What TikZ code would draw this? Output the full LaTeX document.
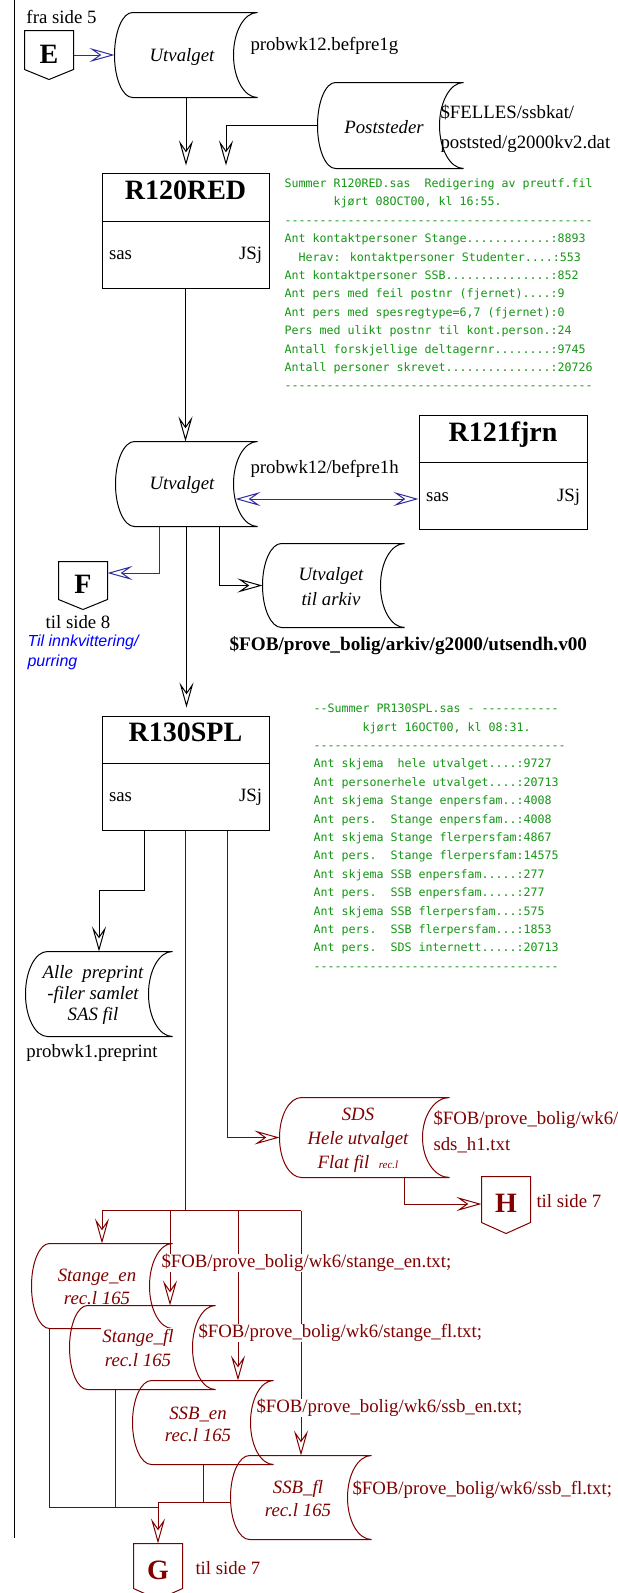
\documentclass[tikz,border=0pt]{standalone}
\usepackage{fontspec}
\setmainfont{Liberation Serif}
\newfontfamily\gmono{DejaVu Sans Mono}
\newfontfamily\lsans{Liberation Sans}
\usetikzlibrary{arrows.meta,calc}
\definecolor{lblue}{RGB}{45,45,160}
\definecolor{tgreen}{RGB}{20,150,20}
\definecolor{dred}{RGB}{128,0,0}
\definecolor{tblue}{RGB}{0,0,255}
\newcommand\stonode[5]{\node[sto, minimum width={#4-#2}, minimum height={#5-#3}] (#1) at ({(#2+#4)/2},{(#3+#5)/2}) {};}
\newcommand\storeshape[4][black]{\draw[#1] let \p1=(#2.north west), \p2=(#2.south east), \n1={(\y1-\y2)/2} in (\x1+#3pt,\y1) -- (\x2,\y1) arc[start angle=90,end angle=270,x radius=#4pt,y radius=\n1] -- (\x1+#3pt,\y2) arc[start angle=270,end angle=90,x radius=#3pt,y radius=\n1] -- cycle;}
\newcommand\offshape[3][black]{\draw[#1] (#2.north west) -- (#2.north east) -- (#2.south east) -- ($(#2.south)+(0,#3)$) -- (#2.south west) -- cycle;}
\newcommand\divider[2]{\draw ($(#1.north west)+(0,#2)$) -- ($(#1.north east)+(0,#2)$);}
\tikzset{
 >={Stealth[open,length=25pt,width=14pt,inset=10pt]},
 sto/.style={inner sep=0pt, draw=none},
 box/.style={draw, inner sep=0pt, minimum width=167pt, minimum height=114pt},
 offp/.style={inner sep=0pt, minimum width=48pt, font=\bfseries\fontsize{28}{28}\selectfont, text height=26.5pt, text depth=0pt},
 txt/.style={inner sep=0pt, font=\fontsize{18.8}{22}\selectfont, text height=12.5pt, text depth=4pt},
 btxt/.style={txt, font=\bfseries\fontsize{19.2}{22}\selectfont},
 ttl/.style={inner sep=0pt, font=\bfseries\fontsize{28}{28}\selectfont, text height=19pt, text depth=6pt},
 itx/.style={inner sep=0pt, align=center, font=\itshape\fontsize{18.8}{23}\selectfont},
 gtxt/.style={inner sep=0pt, align=left, text=tgreen, font=\gmono\fontsize{11.63}{18.4}\selectfont},
 bnote/.style={inner sep=0pt, align=left, text=tblue, font=\lsans\itshape\fontsize{16}{20}\selectfont},
 lbl/.style={txt, text=dred, fill=white, inner sep=1pt, anchor=west},
 arr/.style={->},
 barr/.style={->, draw=lblue},
 rarr/.style={->, draw=dred},
}
\begin{document}
\begin{tikzpicture}[x=1pt,y=-1pt,line width=1pt]
\fill[white] (0,0) rectangle (618,1593);
\useasboundingbox (0,0) rectangle (618,1593);
\draw (14,0) -- (14,1538);

% ---- top: E and Utvalget
\node[txt, anchor=west] (fra) at (26,19) {fra side 5};
\node[offp, minimum height=38pt] (E) at (49,50) {E};
\offshape{E}{10}
\stonode{U1}{115}{13}{257}{97}
\storeshape{U1}{18}{24}
\node[itx] (U1t) at (182,57) {Utvalget};
\node[txt, anchor=west] (U1f) at (250,46) {probwk12.befpre1g};
\draw[barr] (E.east |- U1.west) -- (U1.west);

% ---- Poststeder
\stonode{Post}{318}{83}{463}{168}
\storeshape{Post}{18}{24}
\node[itx] (Postt) at (384,127) {Poststeder};
\node[txt, anchor=west] (Pf1) at (440,114) {\$FELLES/ssbkat/};
\node[txt, anchor=west] (Pf2) at (440,144) {poststed/g2000kv2.dat};

% ---- R120RED
\node[box, minimum height=115pt] (R120) at (185.5,230.5) {};
\divider{R120}{49}
\node[ttl] (R120t) at ($(R120.north)+(0,20)$) {R120RED};
\node[txt, anchor=west] (R120s) at ($(R120.north west)+(7,83)$) {sas};
\node[txt, anchor=east] (R120j) at ($(R120.north east)+(-7,83)$) {JSj};
\draw[arr, shorten >=7pt] (U1.south) -- (U1.south |- R120.north);
\draw[arr, shorten >=7pt] (Post.west) -| ($(R120.north)+(40.5,0)$);

\node[gtxt, anchor=north west] (sum1) at (284,178) {Summer R120RED.sas~~Redigering av preutf.fil\\
\phantom{0000000}kjørt 08OCT00, kl 16:55.\\
--------------------------------------------\\
Ant kontaktpersoner Stange............:8893\\
\phantom{00}Herav: kontaktpersoner Studenter....:553\\
Ant kontaktpersoner SSB...............:852\\
Ant pers med feil postnr (fjernet)....:9\\
Ant pers med spesregtype=6,7 (fjernet):0\\
Pers med ulikt postnr til kont.person.:24\\
Antall forskjellige deltagernr........:9745\\
Antall personer skrevet...............:20726\\
--------------------------------------------};

% ---- Utvalget 2
\stonode{U2}{116}{442}{257}{526}
\storeshape{U2}{19}{24}
\node[itx] (U2t) at (182,485) {Utvalget};
\node[txt, anchor=west] (U2f) at (250,469) {probwk12/befpre1h};
\draw[arr] (R120.south) -- (R120.south |- U2.north);

% ---- R121fjrn
\node[box, minimum width=168pt] (R121) at (503,472) {};
\divider{R121}{48}
\node[ttl] (R121t) at ($(R121.north)+(0,20)$) {R121fjrn};
\node[txt, anchor=west] (R121s) at ($(R121.north west)+(7,83)$) {sas};
\node[txt, anchor=east] (R121j) at ($(R121.north east)+(-7,83)$) {JSj};
\coordinate (u2r) at ($(U2.east)+(-22,15)$);
\draw[barr, <->] (u2r) -- (u2r -| R121.west);

% ---- F
\node[offp, minimum height=37pt] (F) at (83,580.5) {F};
\offshape{F}{10}
\draw[barr] ($(U2.south)+(-27.5,0)$) |- ($(F.east)+(0,-7.5)$);
\node[txt] (F8) at (78,624) {til side 8};
\node[bnote, anchor=west] (Fnote) at (27,652) {Til innkvittering/\\purring};

% ---- arkiv
\stonode{Ark}{263}{544}{404}{627}
\storeshape{Ark}{19}{24}
\node[itx, font=\itshape\fontsize{18.8}{25}\selectfont] (Arkt) at (331,587) {Utvalget\\til arkiv};
\draw[arr] ($(U2.south)+(32.5,0)$) |- (Ark.west);
\node[btxt, anchor=west] (Arkf) at (229,646) {\$FOB/prove\_bolig/arkiv/g2000/utsendh.v00};

% ---- R130SPL
\node[box] (R130) at (185.5,773) {};
\divider{R130}{48}
\node[ttl] (R130t) at ($(R130.north)+(0,19)$) {R130SPL};
\node[txt, anchor=west] (R130s) at ($(R130.north west)+(7,82)$) {sas};
\node[txt, anchor=east] (R130j) at ($(R130.north east)+(-7,82)$) {JSj};
\draw[arr, shorten >=8pt] (U2.south) -- (U2.south |- R130.north);

\node[gtxt, anchor=north west] (sum2) at (313,703.5) {-{}-Summer PR130SPL.sas - -----------\\
\phantom{0000000}kjørt 16OCT00, kl 08:31.\\
------------------------------------\\
Ant skjema~~hele utvalget....:9727\\
Ant personerhele utvalget....:20713\\
Ant skjema Stange enpersfam..:4008\\
Ant pers.~~Stange enpersfam..:4008\\
Ant skjema Stange flerpersfam:4867\\
Ant pers.~~Stange flerpersfam:14575\\
Ant skjema SSB enpersfam.....:277\\
Ant pers.~~SSB enpersfam.....:277\\
Ant skjema SSB flerpersfam...:575\\
Ant pers.~~SSB flerpersfam...:1853\\
Ant pers.~~SDS internett.....:20713\\
-----------------------------------};

% ---- Alle preprint
\stonode{Alle}{26}{952}{172}{1036}
\storeshape{Alle}{22}{24}
\node[itx, font=\itshape\fontsize{18.8}{21}\selectfont] (Allet) at (93,995) {Alle~ preprint\\-filer samlet\\SAS fil};
\draw[arr] ($(R130.south)+(-41.5,0)$) -- ++(0,60) -| (Alle.north);
\node[txt, anchor=west] (Allef) at (26,1053) {probwk1.preprint};

% ---- SDS
\stonode{SDS}{280}{1098}{449}{1177}
\storeshape[dred]{SDS}{22}{27}
\node[itx, text=dred, font=\itshape\fontsize{18.8}{24}\selectfont] (SDSt) at (358,1140) {SDS\\Hele utvalget\\Flat fil~ {\fontsize{11}{11}\selectfont rec.l}};
\draw[rarr] ($(R130.south)+(41.5,0)$) |- (SDS.west);
\node[txt, text=dred, anchor=west] (SDSf1) at (433,1120) {\$FOB/prove\_bolig/wk6/};
\node[txt, text=dred, anchor=west] (SDSf2) at (433,1146) {sds\_h1.txt};

% ---- H
\node[offp, text=dred, minimum height=45pt] (H) at (506,1199.5) {H};
\offshape[dred]{H}{11}
\draw[rarr] ($(SDS.south)+(39.5,0)$) |- ($(H.west)+(0,4.5)$);
\node[txt, text=dred, anchor=west] (H7) at (536,1203) {til side 7};

% ---- bottom files
\stonode{Sen}{32}{1244}{172}{1328}
\stonode{Sfl}{70}{1306}{215}{1389}
\stonode{SSBen}{133}{1381}{273}{1464}
\stonode{SSBfl}{231}{1456}{371}{1539}
\node[offp, text=dred, minimum height=44pt] (G) at (158,1566) {G};
\offshape[dred]{G}{11}

\coordinate (bus) at ($(R130.south)+(0,380)$);
\draw[dred] (R130.south) -- (bus);
\draw[dred] (bus -| Sen.north) -- (bus -| SSBfl.north);
\draw[rarr] (bus -| Sen.north) -- (Sen.north);
\draw[rarr] ($(bus -| Sfl.north)+(27.5,0)$) -- ($(Sfl.north)+(27.5,0)$);
\draw[rarr] ($(bus -| SSBen.north)+(35,0)$) -- ($(SSBen.north)+(35,0)$);
\draw[rarr] (bus -| SSBfl.north) -- (SSBfl.north);

\storeshape[dred]{Sen}{18}{23}
\node[itx, text=dred] (Sent) at (97,1287) {Stange\_en\\rec.l 165};
\node[itx, text=dred, fill=white, inner sep=1pt, font=\itshape\fontsize{18.8}{24}\selectfont] (Sflt) at (138,1348) {Stange\_fl\\rec.l 165};
\storeshape[dred]{Sfl}{18}{23}
\storeshape[dred]{SSBen}{19}{23}
\node[itx, text=dred, font=\itshape\fontsize{18.8}{22}\selectfont] (SSBent) at (198,1424) {SSB\_en\\rec.l 165};
\storeshape[dred]{SSBfl}{19}{24}
\node[itx, text=dred] (SSBflt) at (298,1498) {SSB\_fl\\rec.l 165};

\coordinate (gl) at ($(G.north)+(0,-36)$);
\coordinate (gr) at ($(G.north)+(0,-41)$);
\draw[dred] ($(Sen.south)+(-53,0)$) |- (gl);
\draw[dred] ($(Sfl.south)+(-27.5,0)$) |- (gl);
\draw[dred] (SSBen.south) |- (gr);
\draw[dred] (gr) -- (gr -| SSBfl.west);
\draw[rarr] (gr) -- (G.north);
\node[txt, text=dred, anchor=west] (G7) at (195,1570) {til side 7};

\node[lbl] (Lsen) at (160,1263) {\$FOB/prove\_bolig/wk6/stange\_en.txt;};
\node[lbl] (Lsfl) at (197,1333) {\$FOB/prove\_bolig/wk6/stange\_fl.txt;};
\node[lbl] (Lben) at (255,1408) {\$FOB/prove\_bolig/wk6/ssb\_en.txt;};
\node[lbl] (Lbfl) at (351,1490) {\$FOB/prove\_bolig/wk6/ssb\_fl.txt;};
\end{tikzpicture}
\end{document}
